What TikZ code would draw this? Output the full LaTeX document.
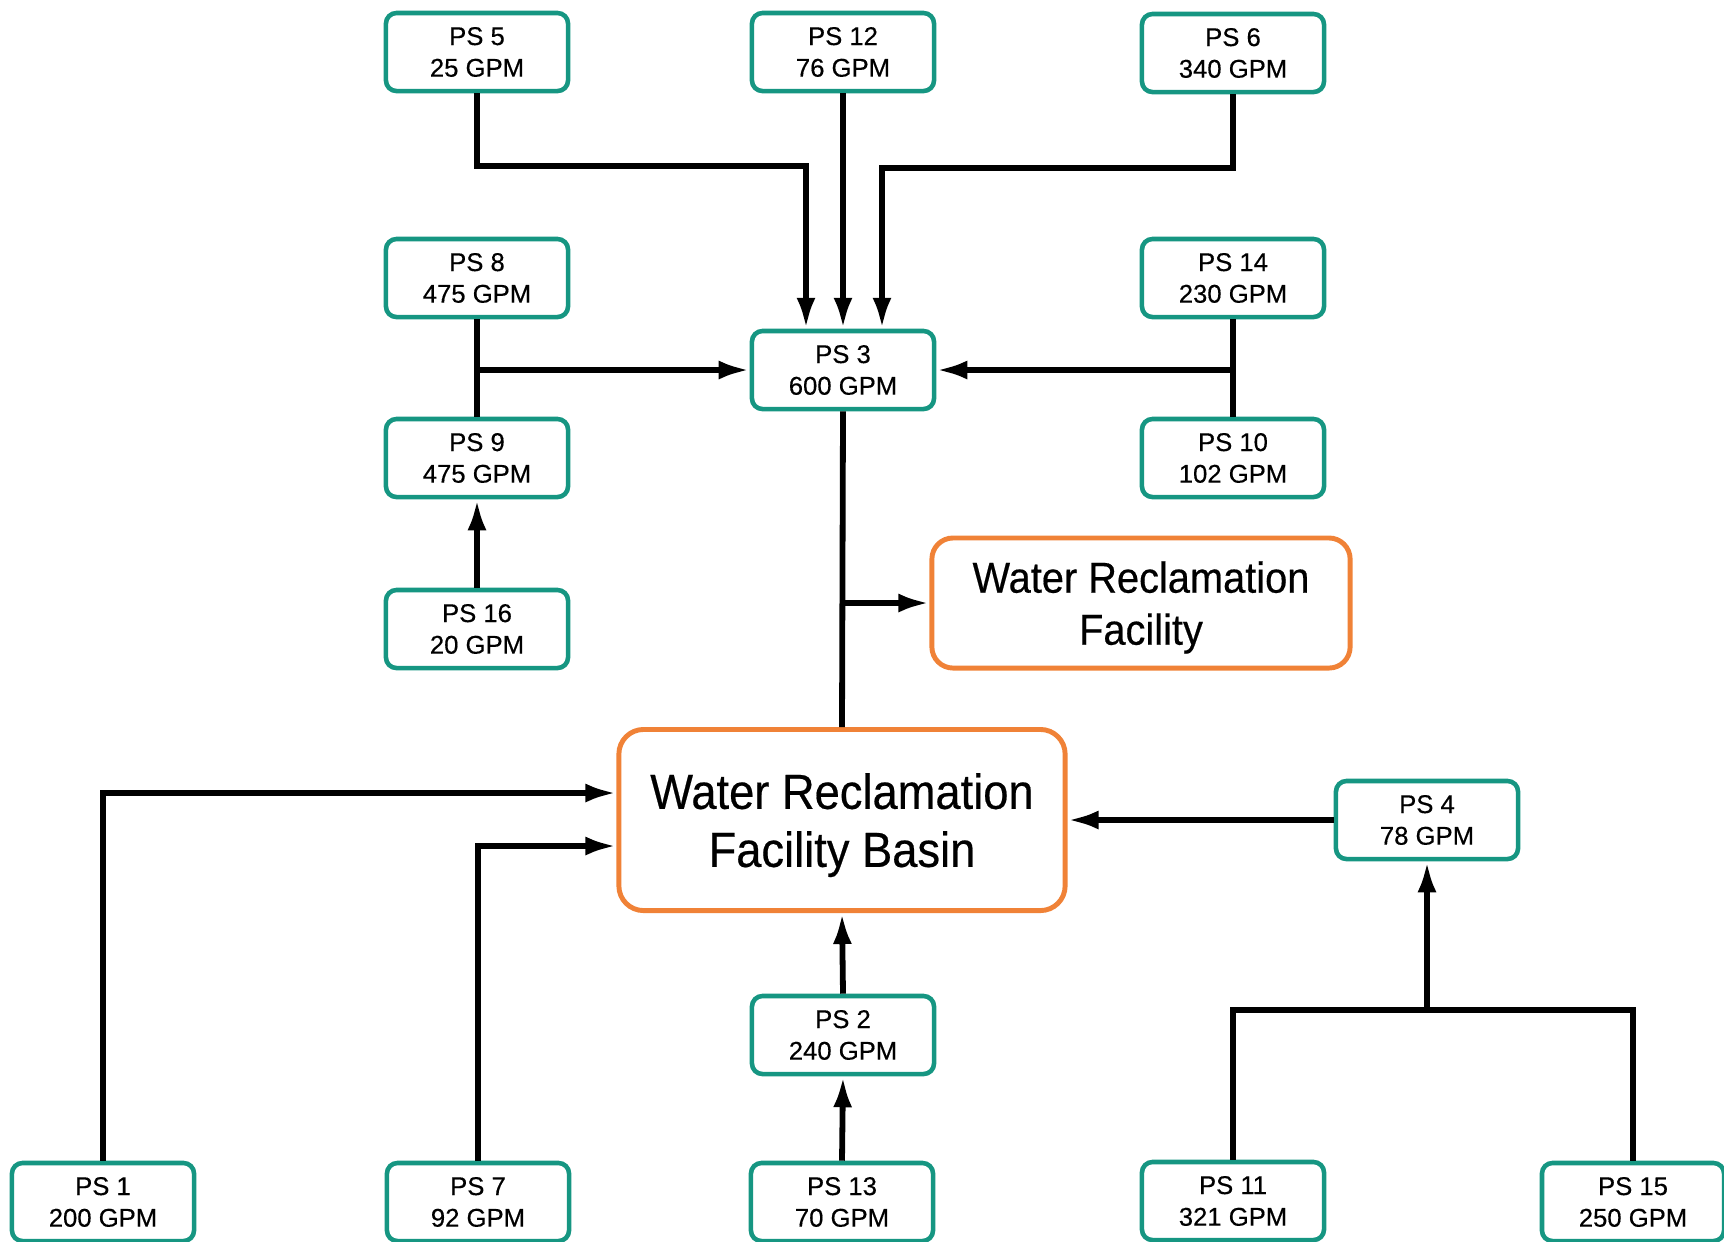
\documentclass[tikz,border=0pt]{standalone}
\usepackage{fontspec}
\setmainfont{Liberation Sans}
\newfontfamily\psfont[FakeBold=0.4]{Liberation Sans}
\newfontfamily\bigfont[FakeStretch=0.92,FakeBold=0.4]{Liberation Sans}
\usetikzlibrary{arrows.meta}
\definecolor{tealbox}{RGB}{22,150,130}
\definecolor{orangebox}{RGB}{240,130,55}
\tikzset{
  psbox/.style={draw=tealbox, line width=1.3pt, rounded corners=3pt, fill=white,
    minimum width=1.82cm, minimum height=0.78cm, align=center, inner sep=0pt,
    font=\psfont\fontsize{7.3}{9}\selectfont},
  bigbox/.style={draw=orangebox, line width=1.4pt, fill=white, align=center, inner sep=0pt, text depth=0pt},
  conn/.style={line width=1.65pt, black},
  arr/.style={conn, -{Latex[length=8.8pt,width=5.4pt]}}
}
\begin{document}
\begin{tikzpicture}[x=0.01cm,y=-0.01cm]
\useasboundingbox (0,0) rectangle (1724,1241);
% top row
\node[psbox] (ps5) at (477,52) {PS 5\\25 GPM};
\node[psbox] (ps12) at (843,52) {PS 12\\76 GPM};
\node[psbox] (ps6) at (1233,53) {PS 6\\340 GPM};
% second
\node[psbox] (ps8) at (477,278) {PS 8\\475 GPM};
\node[psbox] (ps3) at (843,370) {PS 3\\600 GPM};
\node[psbox] (ps14) at (1233,278) {PS 14\\230 GPM};
\node[psbox] (ps9) at (477,458) {PS 9\\475 GPM};
\node[psbox] (ps10) at (1233,458) {PS 10\\102 GPM};
\node[psbox] (ps16) at (477,629) {PS 16\\20 GPM};
% big boxes
\node[bigbox, rounded corners=6pt, minimum width=4.18cm, minimum height=1.30cm,
  font=\bigfont\fontsize{12.3}{14.8}\selectfont] (wrf) at (1141,603) {Water Reclamation\\Facility};
\node[bigbox, rounded corners=7pt, minimum width=4.46cm, minimum height=1.81cm,
  font=\bigfont\fontsize{14}{16.5}\selectfont] (basin) at (842,820) {Water Reclamation\\Facility Basin};
% lower
\node[psbox] (ps4) at (1427,820) {PS 4\\78 GPM};
\node[psbox] (ps2) at (843,1035) {PS 2\\240 GPM};
\node[psbox] (ps1) at (103,1202) {PS 1\\200 GPM};
\node[psbox] (ps7) at (478,1202) {PS 7\\92 GPM};
\node[psbox] (ps13) at (842,1202) {PS 13\\70 GPM};
\node[psbox] (ps11) at (1233,1201) {PS 11\\321 GPM};
\node[psbox] (ps15) at (1633,1202) {PS 15\\250 GPM};
% junction coordinates
\coordinate (j5a) at (ps5.south |- 0,166);
\coordinate (j5b) at (806,166);
\coordinate (j6a) at (ps6.south |- 0,168);
\coordinate (j6b) at (882,168);
\coordinate (j8) at (ps8.south |- ps3.west);
\coordinate (j14) at (ps14.south |- ps3.east);
\coordinate (jw) at (ps3.south |- wrf.west);
\coordinate (j1) at (ps1.north |- 0,793);
\coordinate (j7) at (ps7.north |- 0,846);
\coordinate (j11) at (ps11.north |- 0,1010);
\coordinate (j15) at (ps15.north |- 0,1010);
\coordinate (j4) at (ps4.south |- 0,1010);
% connectors
\draw[arr] (ps5.south) -- (j5a) -- (j5b) -- (j5b |- ps3.north);
\draw[arr] (ps12.south) -- (ps3.north);
\draw[arr] (ps6.south) -- (j6a) -- (j6b) -- (j6b |- ps3.north);
\draw[conn] (ps8.south) -- (ps9.north);
\draw[arr] (j8) -- (ps3.west);
\draw[conn] (ps14.south) -- (ps10.north);
\draw[arr] (j14) -- (ps3.east);
\draw[arr] (ps16.north) -- (ps9.south);
\draw[conn] (ps3.south) -- (basin.north);
\draw[arr] (jw) -- (wrf.west);
\draw[arr] (ps1.north) -- (j1) -- (basin.west |- j1);
\draw[arr] (ps7.north) -- (j7) -- (basin.west |- j7);
\draw[arr] (ps13.north) -- (ps2.south);
\draw[arr] (ps2.north) -- (basin.south);
\draw[arr] (ps4.west) -- (basin.east |- ps4.west);
\draw[conn] (ps11.north) -- (j11) -- (j15) -- (ps15.north);
\draw[arr] (j4) -- (ps4.south);
\end{tikzpicture}
\end{document}
